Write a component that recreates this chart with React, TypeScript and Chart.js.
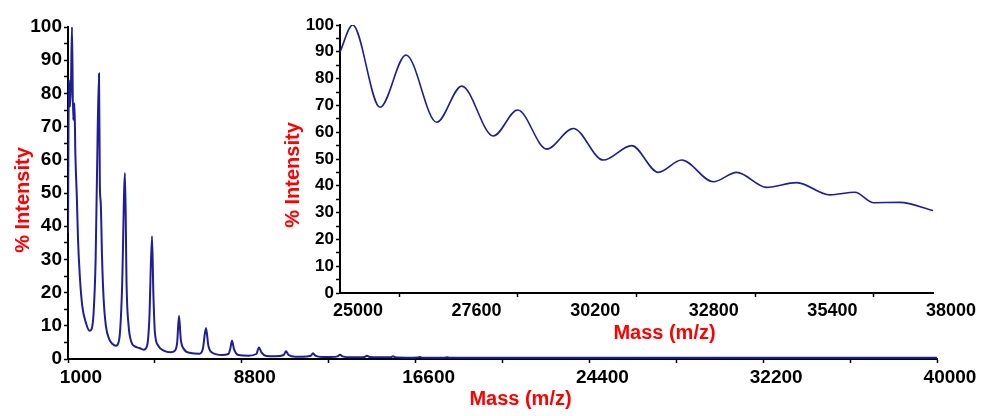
import React, { useEffect, useRef } from "react";
import { Chart, registerables } from "chart.js";

Chart.register(...registerables);

// ---- Main spectrum (m/z vs % intensity) ----
const mainMass = [
  1000, 1040, 1090, 1130, 1180, 1230, 1290, 1330, 1400, 1450, 1530, 1640, 1800, 1970, 2060, 2150, 2240, 2300, 2391,
  2430, 2470, 2530, 2600, 2700, 2850, 3000, 3150, 3300, 3420, 3558, 3630, 3720, 3850, 4000, 4200, 4400, 4550, 4650,
  4770, 4830, 4900, 5050, 5300, 5600, 5800, 5900, 5982, 6060, 6200, 6500, 6900, 7050, 7193, 7300, 7500, 7900, 8200,
  8280, 8360, 8450, 8650, 9100, 9450, 9572, 9680, 9900, 10300, 10680, 10784, 10900, 11200, 11500, 11900, 11996,
  12100, 12400, 12800, 13100, 13207, 13320, 13700, 14300, 14419, 14530, 15000, 15480, 15586, 15700, 16200, 16700,
  16798, 16900, 17400, 17900, 18010, 18120, 20000, 24000, 28000, 32000, 36000, 40000,
];
const mainIntensity = [
  38, 84, 76, 82, 100, 72, 77, 62, 48, 36, 25, 16, 11, 8.5, 9, 14, 30, 55, 86,
  52, 47, 30, 18, 10, 6, 4.5, 4, 6, 20, 56, 22, 10, 5, 3.8, 3.3, 2.8, 4, 12,
  37, 20, 8, 4, 2.5, 2, 2.5, 5, 13, 6, 3, 1.8, 1.6, 3, 9.3, 4, 1.8, 1.2, 1.5,
  3, 5.5, 3, 1.2, 1, 1.5, 3.5, 2, 0.9, 0.8, 1.2, 2.3, 1.2, 0.7, 0.7, 1, 1.7,
  1, 0.6, 0.6, 0.8, 1.3, 0.8, 0.5, 0.6, 1.0, 0.6, 0.5, 0.5, 0.8, 0.5, 0.4, 0.45,
  0.6, 0.4, 0.4, 0.4, 0.5, 0.4, 0.4, 0.4, 0.4, 0.4, 0.4, 0.4,
];
const mainXTickLabels = [1000, 8800, 16600, 24400, 32200, 40000];

// ---- Inset spectrum (zoom 25000–38000) ----
const insetMass = [
  25000, 25278, 25877, 26447, 27120, 27668, 28360, 28895, 29531, 30114, 30772, 31394, 31978, 32491, 33183, 33696,
  34353, 35011, 35741, 36289, 36690, 37275, 38000,
];
const insetIntensity = [
  90, 100, 69.3, 88.8, 63.7, 77.2, 58.6, 68.3, 53.7, 61.4, 49.6, 55, 45, 49.6, 41.5, 45,
  39.4, 41.2, 36.6, 37.6, 33.7, 33.8, 30.8,
];
const insetXTickLabels = [25000, 27600, 30200, 32800, 35400, 38000];

const yTickLabels = [0, 10, 20, 30, 40, 50, 60, 70, 80, 90, 100];

const LINE_COLOR = "#1e1e98";
const TITLE_COLOR = "#ff0000";
const FONT_FAMILY = "'Liberation Sans', Arial, sans-serif";

const freeTitles = {
  id: "freeTitles",
  afterDraw(chart: any, _args: any, opts: any) {
    const ctx = chart.ctx;
    const a = chart.chartArea;
    ctx.save();
    ctx.fillStyle = opts.color;
    ctx.font = opts.font;
    ctx.textAlign = "center";
    ctx.textBaseline = "middle";
    ctx.fillText(opts.xText, (a.left + a.right) / 2 + opts.xDx, a.bottom + opts.xDy);
    ctx.translate(a.left + opts.yDx, (a.top + a.bottom) / 2 + opts.yDy);
    ctx.rotate(-Math.PI / 2);
    ctx.fillText(opts.yText, 0, 0);
    ctx.restore();
  },
};

function makeConfig(p: {
  xs: number[];
  ys: number[];
  xMin: number;
  xMax: number;
  xStep: number;
  xLabels: number[];
  hideLabeledTickMarks: boolean;
  padding: any;
  yWidth: number;
  xHeight: number;
  tickFont: number;
  xTickFont: number;
  labelOffset: number;
  titles: any;
  lineWidth: number;
}): any {
  return {
    type: "line",
    data: {
      datasets: [
        {
          data: p.xs.map((x, i) => ({ x, y: p.ys[i] })),
          borderColor: LINE_COLOR,
          borderWidth: p.lineWidth,
          pointRadius: 0,
          fill: false,
          cubicInterpolationMode: "monotone",
        },
      ],
    },
    options: {
      responsive: false,
      animation: false,
      events: [],
      layout: { padding: p.padding },
      plugins: {
        legend: { display: false },
        tooltip: { enabled: false },
        freeTitles: p.titles,
      },
      scales: {
        x: {
          type: "linear",
          min: p.xMin,
          max: p.xMax,
          afterFit: (s: any) => {
            s.height = p.xHeight;
          },
          border: { display: true, color: "#000", width: 2 },
          grid: {
            drawOnChartArea: false,
            drawTicks: true,
            tickLength: 4,
            tickColor: (c: any) =>
              p.hideLabeledTickMarks && c.tick && p.xLabels.includes(c.tick.value) ? "rgba(0,0,0,0)" : "#000",
            tickWidth: 1.5,
          },
          ticks: {
            stepSize: p.xStep,
            autoSkip: false,
            maxRotation: 0,
            minRotation: 0,
            padding: 3,
            labelOffset: p.labelOffset,
            color: "#000",
            font: { family: FONT_FAMILY, size: p.xTickFont, weight: "bold" },
            callback: (v: any) => (p.xLabels.includes(Number(v)) ? String(v) : ""),
          },
        },
        y: {
          type: "linear",
          min: 0,
          max: 100,
          afterFit: (s: any) => {
            s.width = p.yWidth;
          },
          border: { display: true, color: "#000", width: 2 },
          grid: {
            drawOnChartArea: false,
            drawTicks: true,
            tickLength: 4,
            tickColor: "#000",
            tickWidth: 1.5,
          },
          ticks: {
            stepSize: 5,
            autoSkip: false,
            padding: 2,
            color: "#000",
            font: { family: FONT_FAMILY, size: p.tickFont, weight: "bold" },
            callback: (v: any) => (yTickLabels.includes(Number(v)) ? String(v) : ""),
          },
        },
      },
    },
    plugins: [freeTitles],
  };
}

export default function App() {
  const mainRef = useRef<HTMLCanvasElement>(null);
  const insetRef = useRef<HTMLCanvasElement>(null);

  useEffect(() => {
    document.body.style.margin = "0";
    document.body.style.background = "#fff";
    const titleFont = `bold 20px ${FONT_FAMILY}`;
    const main = new Chart(
      mainRef.current as HTMLCanvasElement,
      makeConfig({
        xs: mainMass,
        ys: mainIntensity,
        xMin: 1000,
        xMax: 40000,
        xStep: 3900,
        xLabels: mainXTickLabels,
        hideLabeledTickMarks: false,
        padding: { left: 0, top: 27, right: 47, bottom: 0 },
        yWidth: 68,
        xHeight: 57,
        tickFont: 19,
        xTickFont: 19,
        labelOffset: 13,
        lineWidth: 2,
        titles: {
          color: TITLE_COLOR,
          font: titleFont,
          xText: "Mass (m/z)",
          yText: "% Intensity",
          xDx: 18,
          xDy: 40,
          yDx: -45,
          yDy: 7,
        },
      })
    );
    const inset = new Chart(
      insetRef.current as HTMLCanvasElement,
      makeConfig({
        xs: insetMass,
        ys: insetIntensity,
        xMin: 25000,
        xMax: 38000,
        xStep: 1300,
        xLabels: insetXTickLabels,
        hideLabeledTickMarks: true,
        padding: { left: 300, top: 25, right: 51, bottom: 93 },
        yWidth: 40,
        xHeight: 30,
        tickFont: 17,
        xTickFont: 18,
        labelOffset: 18,
        lineWidth: 1.6,
        titles: {
          color: TITLE_COLOR,
          font: titleFont,
          xText: "Mass (m/z)",
          yText: "% Intensity",
          xDx: 28,
          xDy: 40,
          yDx: -47,
          yDy: 16,
        },
      })
    );
    return () => {
      main.destroy();
      inset.destroy();
    };
  }, []);

  return (
    <div style={{ position: "relative", width: 984, height: 416, background: "#fff" }}>
      <canvas ref={mainRef} width={984} height={416} style={{ position: "absolute", left: 0, top: 0 }} />
      <canvas
        ref={insetRef}
        width={984}
        height={416}
        style={{ position: "absolute", left: 0, top: 0, pointerEvents: "none" }}
      />
    </div>
  );
}
